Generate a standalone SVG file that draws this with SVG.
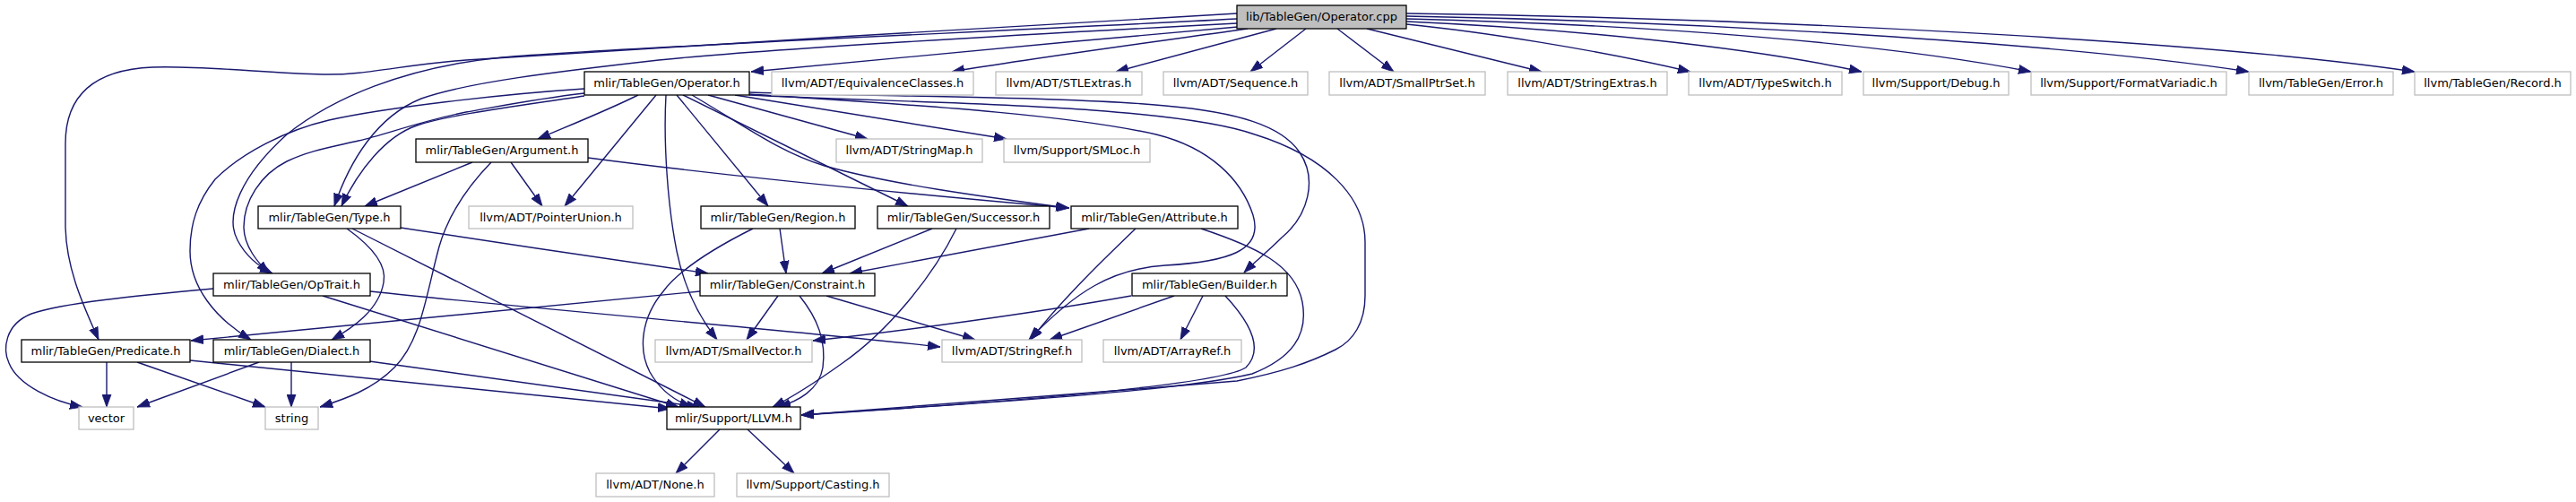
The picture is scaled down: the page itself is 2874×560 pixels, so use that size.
<svg xmlns="http://www.w3.org/2000/svg" width="2874" height="560" viewBox="0 0 2874 560">
<style>
.n rect{fill:#fff;stroke:#000;stroke-width:1.3}
.g rect{fill:#fff;stroke:#bfbfbf;stroke-width:1.3}
.r rect{fill:#bfbfbf;stroke:#000;stroke-width:1.3}
text{font-family:"DejaVu Sans","Liberation Sans",sans-serif;font-size:13px;text-anchor:middle;fill:#000}
#edges path{fill:none;stroke:#191970;stroke-width:1.4;marker-end:url(#a)}
</style>
<defs>
<marker id="a" markerUnits="userSpaceOnUse" markerWidth="15" markerHeight="11" refX="14" refY="5.5" orient="auto" viewBox="0 0 15 11">
<path d="M0,0.5 L14,5.5 L0,10.5 z" fill="#191970" stroke="#191970" stroke-width="0.8"/>
</marker>
</defs>
<rect width="2874" height="560" fill="#fff"/>
<g id="edges">
<path d="M1381,30 C1200,46 1000,64 838,80"/>
<path d="M1392,32 C1300,45 1150,65 1062,80"/>
<path d="M1424,32 L1245,80"/>
<path d="M1457,32 L1395,80"/>
<path d="M1492,32 L1555,80"/>
<path d="M1525,32 L1720,80"/>
<path d="M1569,27 C1650,35 1780,55 1886,80"/>
<path d="M1569,24 C1750,32 1950,52 2077,80"/>
<path d="M1569,21 C1850,28 2100,48 2266,80"/>
<path d="M1569,18 C1900,24 2300,48 2509,80"/>
<path d="M1569,15 C1950,20 2450,44 2694,80"/>
<path d="M1380,15 C1150,28 750,52 520,67 C450,72 410,84 360,83 C300,82 230,73 170,75 C100,78 73,110 73,160 L73,250 C73,300 95,345 110,379"/>
<path d="M1380,21 C1100,36 700,52 560,64 C450,75 370,110 320,150 C270,195 250,240 265,268 C275,287 290,298 304,305"/>
<path d="M1380,26 C1150,38 850,55 735,67 C620,80 520,92 470,110 C420,130 390,180 373,230"/>
<path d="M712,106 C680,122 640,138 600,155"/>
<path d="M732,106 L630,230"/>
<path d="M743,106 C740,160 745,230 755,280 C765,330 785,360 800,379"/>
<path d="M755,106 L857,230"/>
<path d="M762,106 L1013,230"/>
<path d="M790,106 L968,155"/>
<path d="M820,106 L1123,155"/>
<path d="M772,106 C830,140 870,170 920,185 C990,205 1100,220 1192,232"/>
<path d="M836,103 C1000,108 1200,108 1300,118 C1380,125 1430,140 1450,170 C1470,200 1460,240 1430,265 C1415,280 1400,292 1388,304"/>
<path d="M836,105 C980,115 1180,125 1290,150 C1350,165 1385,200 1398,240 C1410,280 1370,292 1300,296 C1240,300 1200,325 1148,379"/>
<path d="M836,106 C1000,115 1300,115 1400,150 C1480,175 1523,220 1523,270 L1523,330 C1523,360 1510,380 1490,390 C1460,405 1430,415 1380,425 C1200,440 1000,455 894,463"/>
<path d="M652,107 C580,118 500,128 465,140 C430,152 400,190 381,230"/>
<path d="M652,104 C600,110 560,118 520,125 C470,135 430,150 400,157 C370,164 345,168 320,180 C290,195 272,225 272,253 C272,275 288,293 300,305"/>
<path d="M652,99 C560,105 430,120 367,134 C320,145 270,170 240,200 C220,225 212,250 212,280 C212,320 240,355 280,379"/>
<path d="M527,181 L407,230"/>
<path d="M570,181 L605,230"/>
<path d="M548,181 C520,210 500,240 490,275 C475,330 470,380 440,410 C415,435 385,445 357,454"/>
<path d="M656,176 C800,195 1000,215 1193,232"/>
<path d="M387,255 C415,275 432,295 428,315 C423,345 395,365 370,379"/>
<path d="M393,255 L787,454"/>
<path d="M447,254 C550,270 700,292 790,305"/>
<path d="M238,322 C150,330 70,338 35,350 C5,362 3,390 10,405 C20,430 60,448 92,454"/>
<path d="M360,330 L757,454"/>
<path d="M413,325 C600,345 900,370 1049,387"/>
<path d="M119,404 L119,454"/>
<path d="M153,404 L296,454"/>
<path d="M212,402 L748,456"/>
<path d="M289,404 L153,454"/>
<path d="M325,404 L325,454"/>
<path d="M412,403 L780,454"/>
<path d="M870,255 L877,305"/>
<path d="M840,255 C790,280 755,305 740,325 C715,355 712,390 725,415 C738,438 755,448 772,454"/>
<path d="M1040,255 L917,305"/>
<path d="M1067,255 C1040,310 990,370 940,405 C905,430 880,445 862,454"/>
<path d="M781,325 L213,380"/>
<path d="M868,330 L833,379"/>
<path d="M892,330 C912,355 922,380 918,410 C914,435 890,448 868,454"/>
<path d="M922,330 L1088,379"/>
<path d="M1215,255 L948,305"/>
<path d="M1267,255 C1220,300 1180,340 1150,379"/>
<path d="M1340,255 C1400,275 1445,295 1453,337 C1460,375 1440,400 1397,417 C1300,440 1000,455 894,463"/>
<path d="M1262,330 C1150,350 1000,370 907,380"/>
<path d="M1310,330 L1171,379"/>
<path d="M1342,330 L1317,379"/>
<path d="M1367,330 C1395,360 1410,390 1390,410 C1360,430 1100,450 894,463"/>
<path d="M803,479 L754,528"/>
<path d="M834,479 L886,528"/>
</g>
<g id="root" class="r"><rect x="1380" y="6" width="189" height="26"/><text x="1474.5" y="23">lib/TableGen/Operator.cpp</text></g>
<g id="operator_h" class="n"><rect x="652" y="80" width="184" height="26"/><text x="744" y="97">mlir/TableGen/Operator.h</text></g>
<g id="equivalenceclasses" class="g"><rect x="861" y="80" width="225" height="26"/><text x="973.5" y="97">llvm/ADT/EquivalenceClasses.h</text></g>
<g id="stlextras" class="g"><rect x="1111" y="80" width="163" height="26"/><text x="1192.5" y="97">llvm/ADT/STLExtras.h</text></g>
<g id="sequence" class="g"><rect x="1298" y="80" width="161" height="26"/><text x="1378.5" y="97">llvm/ADT/Sequence.h</text></g>
<g id="smallptrset" class="g"><rect x="1483" y="80" width="174" height="26"/><text x="1570" y="97">llvm/ADT/SmallPtrSet.h</text></g>
<g id="stringextras" class="g"><rect x="1682" y="80" width="178" height="26"/><text x="1771" y="97">llvm/ADT/StringExtras.h</text></g>
<g id="typeswitch" class="g"><rect x="1884" y="80" width="171" height="26"/><text x="1969.5" y="97">llvm/ADT/TypeSwitch.h</text></g>
<g id="debug" class="g"><rect x="2079" y="80" width="162" height="26"/><text x="2160" y="97">llvm/Support/Debug.h</text></g>
<g id="formatvariadic" class="g"><rect x="2266" y="80" width="218" height="26"/><text x="2375" y="97">llvm/Support/FormatVariadic.h</text></g>
<g id="error" class="g"><rect x="2509" y="80" width="161" height="26"/><text x="2589.5" y="97">llvm/TableGen/Error.h</text></g>
<g id="record" class="g"><rect x="2694" y="80" width="174" height="26"/><text x="2781" y="97">llvm/TableGen/Record.h</text></g>
<g id="argument" class="n"><rect x="464" y="155" width="192" height="26"/><text x="560" y="172">mlir/TableGen/Argument.h</text></g>
<g id="stringmap" class="g"><rect x="933" y="155" width="163" height="26"/><text x="1014.5" y="172">llvm/ADT/StringMap.h</text></g>
<g id="smloc" class="g"><rect x="1120" y="155" width="163" height="26"/><text x="1201.5" y="172">llvm/Support/SMLoc.h</text></g>
<g id="type" class="n"><rect x="288" y="230" width="159" height="25"/><text x="367.5" y="247">mlir/TableGen/Type.h</text></g>
<g id="pointerunion" class="g"><rect x="523" y="230" width="183" height="25"/><text x="614.5" y="247">llvm/ADT/PointerUnion.h</text></g>
<g id="region" class="n"><rect x="782" y="230" width="172" height="25"/><text x="868" y="247">mlir/TableGen/Region.h</text></g>
<g id="successor" class="n"><rect x="979" y="230" width="192" height="25"/><text x="1075" y="247">mlir/TableGen/Successor.h</text></g>
<g id="attribute" class="n"><rect x="1195" y="230" width="186" height="25"/><text x="1288" y="247">mlir/TableGen/Attribute.h</text></g>
<g id="optrait" class="n"><rect x="238" y="305" width="175" height="25"/><text x="325.5" y="322">mlir/TableGen/OpTrait.h</text></g>
<g id="constraint" class="n"><rect x="781" y="305" width="195" height="25"/><text x="878.5" y="322">mlir/TableGen/Constraint.h</text></g>
<g id="builder" class="n"><rect x="1263" y="305" width="173" height="25"/><text x="1349.5" y="322">mlir/TableGen/Builder.h</text></g>
<g id="predicate" class="n"><rect x="24" y="379" width="188" height="25"/><text x="118" y="396">mlir/TableGen/Predicate.h</text></g>
<g id="dialect" class="n"><rect x="238" y="379" width="175" height="25"/><text x="325.5" y="396">mlir/TableGen/Dialect.h</text></g>
<g id="smallvector" class="g"><rect x="731" y="379" width="175" height="25"/><text x="818.5" y="396">llvm/ADT/SmallVector.h</text></g>
<g id="stringref" class="g"><rect x="1051" y="379" width="156" height="25"/><text x="1129" y="396">llvm/ADT/StringRef.h</text></g>
<g id="arrayref" class="g"><rect x="1231" y="379" width="154" height="25"/><text x="1308" y="396">llvm/ADT/ArrayRef.h</text></g>
<g id="vector" class="g"><rect x="88" y="454" width="61" height="25"/><text x="118.5" y="471">vector</text></g>
<g id="string" class="g"><rect x="296" y="454" width="59" height="25"/><text x="325.5" y="471">string</text></g>
<g id="llvm_h" class="n"><rect x="744" y="454" width="149" height="25"/><text x="818.5" y="471">mlir/Support/LLVM.h</text></g>
<g id="none" class="g"><rect x="665" y="528" width="132" height="26"/><text x="731" y="545">llvm/ADT/None.h</text></g>
<g id="casting" class="g"><rect x="822" y="528" width="170" height="26"/><text x="907" y="545">llvm/Support/Casting.h</text></g>
</svg>
